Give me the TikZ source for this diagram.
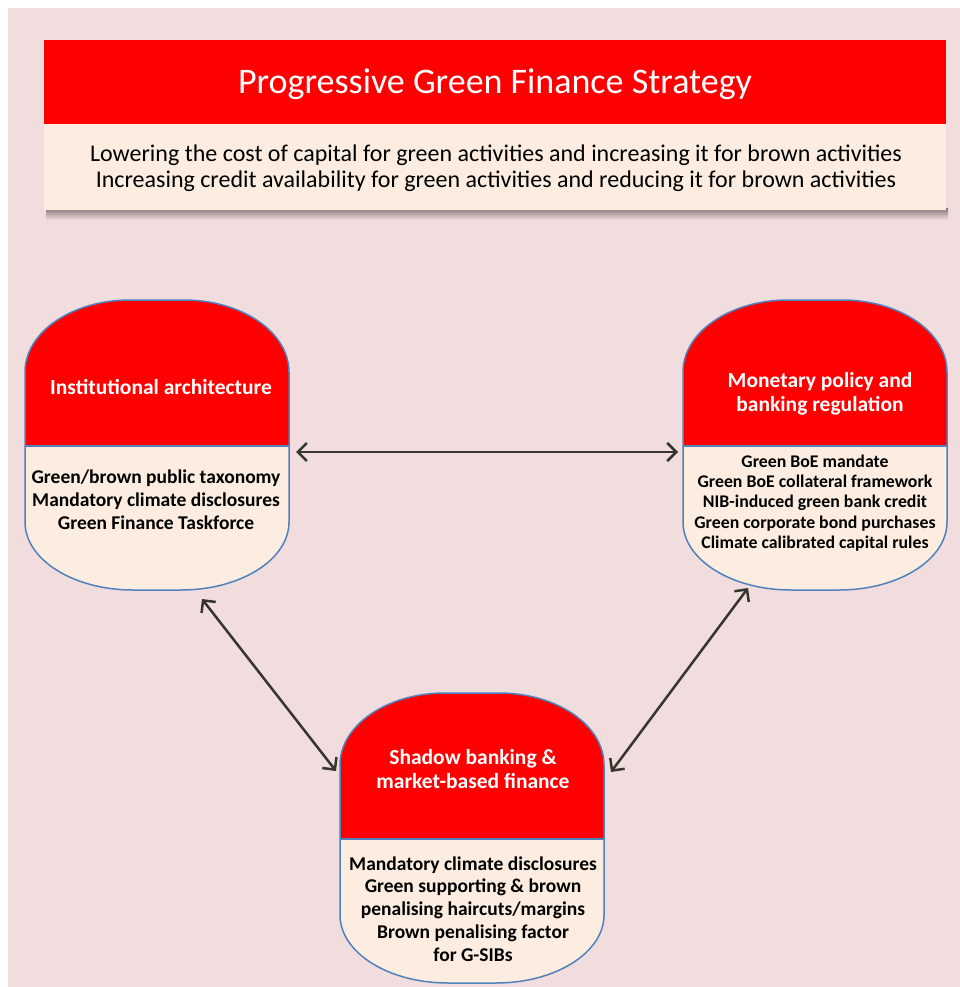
\documentclass[tikz,border=0pt]{standalone}
\usepackage{fontspec}
\setmainfont{Carlito}
\usetikzlibrary{arrows.meta}

\definecolor{pagepink}{HTML}{F2DDDE}
\definecolor{capred}{HTML}{FE0000}
\definecolor{cream}{HTML}{FCEDE0}
\definecolor{rimblue}{HTML}{4F81BD}
\definecolor{arrowgrey}{HTML}{36362E}

\tikzset{
  headtext/.style={text=white, align=center, font=\bfseries\fontsize{21.5}{24}\selectfont},
  itemtext/.style={text=black, align=center, font=\bfseries\fontsize{19.5}{22.8}\selectfont},
  link/.style={draw=arrowgrey, line width=2.5pt,
    {Straight Barb[length=9pt,width=18pt]}-{Straight Barb[length=9pt,width=18pt]}},
}

% capsule: #1 = left edge, #2 = top edge; 264 wide, 290 high, red cap 146 deep
\newcommand{\capsule}[2]{
  \fill[capred] (#1,#2+146) -- (#1,#2+72)
    arc[start angle=180, end angle=270, x radius=105, y radius=72] -- (#1+159,#2)
    arc[start angle=270, end angle=360, x radius=105, y radius=72] -- (#1+264,#2+146) -- cycle;
  \fill[cream] (#1,#2+146) -- (#1,#2+222)
    arc[start angle=180, end angle=90, x radius=108, y radius=68] -- (#1+156,#2+290)
    arc[start angle=90, end angle=0, x radius=108, y radius=68] -- (#1+264,#2+146) -- cycle;
  \draw[rimblue, line width=1.5pt] (#1,#2+146) -- (#1,#2+72)
    arc[start angle=180, end angle=270, x radius=105, y radius=72] -- (#1+159,#2)
    arc[start angle=270, end angle=360, x radius=105, y radius=72] -- (#1+264,#2+222)
    arc[start angle=0, end angle=90, x radius=108, y radius=68] -- (#1+108,#2+290)
    arc[start angle=90, end angle=180, x radius=108, y radius=68] -- cycle;
  \draw[rimblue, line width=1.5pt] (#1,#2+146) -- (#1+264,#2+146);
}

\begin{document}
\begin{tikzpicture}[x=1pt, y=-1pt]
  \useasboundingbox (0,0) rectangle (960,987);
  \fill[white] (0,0) rectangle (960,987);
  \fill[pagepink] (8,8) rectangle (960,987);

  % strategy banner, with a soft shadow under it
  \shade[top color=black!45!pagepink, bottom color=pagepink] (46,208) rectangle (948,220);
  \fill[cream] (44,40) rectangle (946,210);
  \fill[capred] (44,40) rectangle (946,124);
  \node[text=white, font=\fontsize{36}{40}\selectfont] (strategy) at (495,84)
    {Progressive Green Finance Strategy};
  \node[align=center, font=\fontsize{24}{26}\selectfont] (aims) at (496,168)
    {Lowering the cost of capital for green activities and increasing it for brown activities\\
     Increasing credit availability for green activities and reducing it for brown activities};

  % the three policy areas
  \capsule{25}{300}
  \capsule{683}{300}
  \capsule{340}{693}

  \node[headtext] (inst) at (161,387) {Institutional architecture};
  \node[itemtext] (instlist) at (156,500)
    {Green/brown public taxonomy\\ Mandatory climate disclosures\\ Green Finance Taskforce};

  \node[headtext] (mon) at (820,394) {Monetary policy and\\ banking regulation};
  \node[itemtext, font=\bfseries\fontsize{17.8}{20.4}\selectfont] (monlist) at (815,503)
    {Green BoE mandate\\ Green BoE collateral framework\\ NIB-induced green bank credit\\
     Green corporate bond purchases\\ Climate calibrated capital rules};

  \node[headtext] (shadow) at (473,769) {Shadow banking \&\\ market-based finance};
  \node[itemtext] (shadowlist) at (473,909)
    {Mandatory climate disclosures\\ Green supporting \& brown\\ penalising haircuts/margins\\
     Brown penalising factor\\ for G-SIBs};

  % links between the areas
  \coordinate (inst-e) at (296,452);
  \coordinate (mon-w) at (678,452);
  \coordinate (inst-s) at (202,599);
  \coordinate (shadow-w) at (336,771);
  \coordinate (mon-s) at (748,588);
  \coordinate (shadow-e) at (611,772);

  \draw[link] (inst-e) -- (mon-w);
  \draw[link] (inst-s) -- (shadow-w);
  \draw[link] (mon-s) -- (shadow-e);
\end{tikzpicture}
\end{document}
